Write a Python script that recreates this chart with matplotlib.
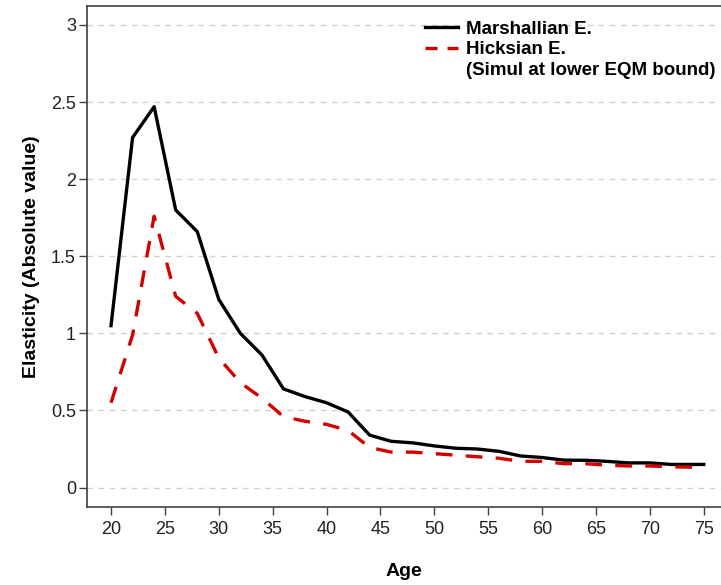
import matplotlib
matplotlib.use("Agg")
import matplotlib.pyplot as plt
from matplotlib.lines import Line2D

plt.rcParams['font.family'] = ['Liberation Sans', 'DejaVu Sans']

# Data
ages = [20, 22, 24, 26, 28, 30, 32, 34, 36, 38, 40, 42, 44, 46, 48, 50,
        52, 54, 56, 58, 60, 62, 64, 66, 68, 70, 72, 75]
marshallian = [1.05, 2.27, 2.47, 1.80, 1.66, 1.22, 1.00, 0.86, 0.64, 0.59, 0.55, 0.49,
               0.34, 0.30, 0.29, 0.27, 0.255, 0.25, 0.235, 0.205, 0.195, 0.178, 0.177,
               0.17, 0.16, 0.16, 0.15, 0.15]
hicksian = [0.55, 0.99, 1.76, 1.24, 1.13, 0.84, 0.68, 0.58, 0.46, 0.43, 0.41, 0.37,
            0.26, 0.23, 0.23, 0.22, 0.21, 0.20, 0.19, 0.17, 0.17, 0.155, 0.155,
            0.145, 0.14, 0.14, 0.135, 0.13]

xticks = [20, 25, 30, 35, 40, 45, 50, 55, 60, 65, 70, 75]
yticks = [0, 0.5, 1, 1.5, 2, 2.5, 3]
ytick_labels = ['0', '0.5', '1', '1.5', '2', '2.5', '3']

red = '#d40000'

fig = plt.figure(figsize=(7.21, 5.85), dpi=100)
ax = fig.add_axes([87 / 721, 1 - 507 / 585, 1 - 87 / 721, (507 - 6) / 585])

for y in yticks:
    ax.axhline(y, color='#d0d0d0', lw=1.0, ls=(0, (4, 4)), zorder=0)

ax.plot(ages, marshallian, color='black', lw=2.4)
ax.plot(ages, hicksian, color=red, lw=2.4, ls=(0, (5, 4)))

ax.set_xlim(17.77, 76.6)
ax.set_ylim(-0.126, 3.123)
ax.set_xticks(xticks)
ax.set_yticks(yticks)
ax.set_yticklabels(ytick_labels)
ax.tick_params(axis='both', direction='out', length=6, width=1, color='#404040',
               labelsize=13, labelcolor='#222222', pad=2)
ax.tick_params(axis='x', pad=4)

for side in ['left', 'top', 'bottom']:
    ax.spines[side].set_color('#404040')
    ax.spines[side].set_linewidth(1.2)
ax.spines['right'].set_visible(False)

ax.set_xlabel('Age', fontsize=14, fontweight='bold', labelpad=18)
ax.set_ylabel('Elasticity (Absolute value)', fontsize=14, fontweight='bold', labelpad=8)

# legend handles: short dash pattern so two dashes show like the original
handles = [Line2D([], [], color='black', lw=2.4),
           Line2D([], [], color=red, lw=2.4, ls=(0, (3.6, 3.0))),
           Line2D([], [], color='none')]
labels = ['Marshallian E.', 'Hicksian E.', '(Simul at lower EQM bound)']
leg = ax.legend(handles, labels, loc='upper left', bbox_to_anchor=(417 / 721, 1 - 13 / 585),
                bbox_transform=fig.transFigure, frameon=False, handlelength=1.8,
                handletextpad=0.4, labelspacing=0.2, borderaxespad=0,
                prop={'weight': 'bold', 'size': 13.5})

fig.savefig('out.png', dpi=100)
